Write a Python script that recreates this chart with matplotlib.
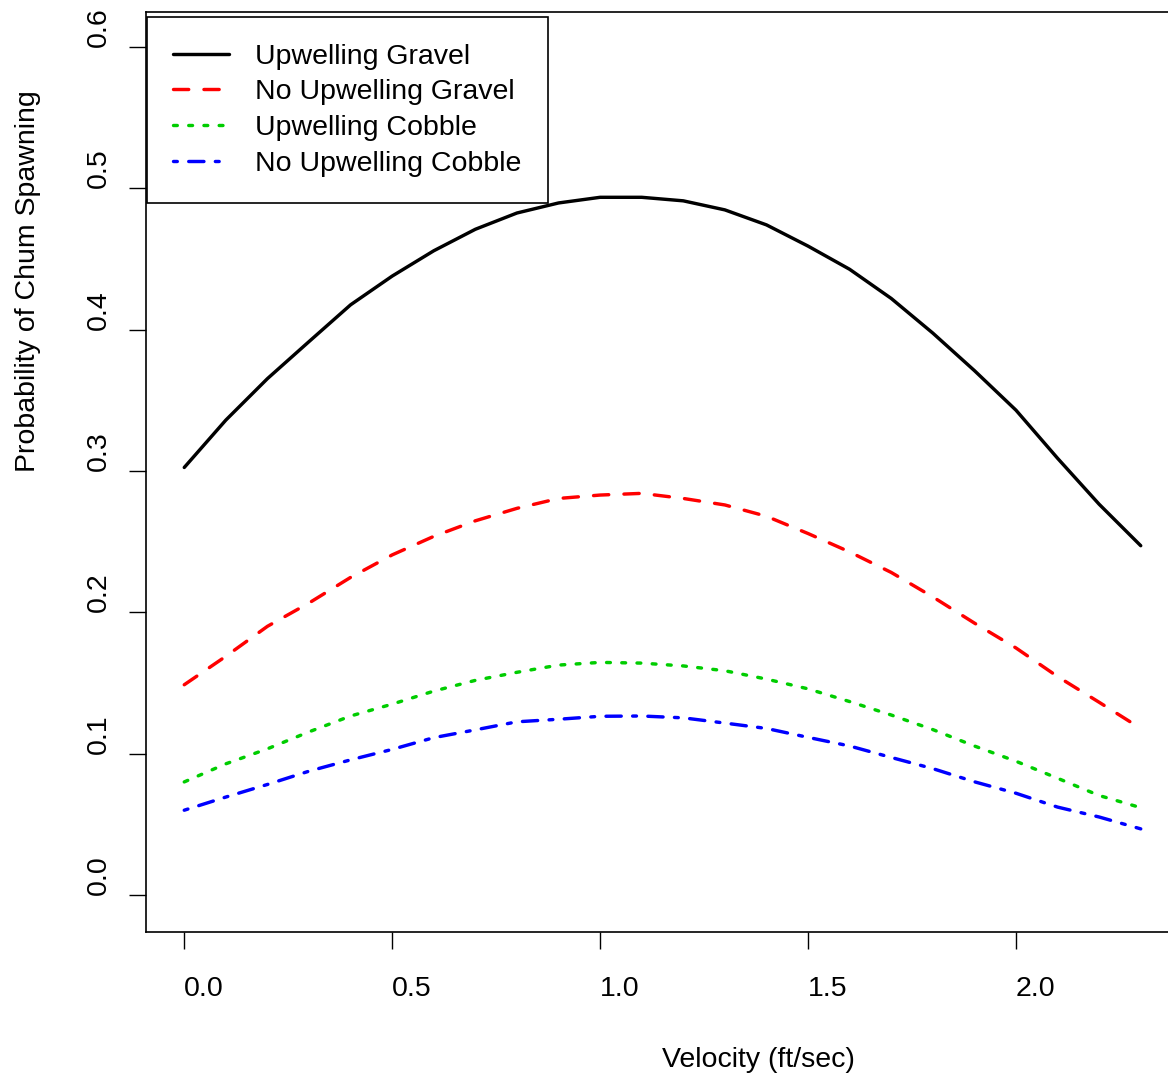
import matplotlib
matplotlib.use('Agg')
import matplotlib.pyplot as plt

# velocity grid (ft/sec) and fitted spawning probabilities per habitat type
velocity = [0.0, 0.1, 0.2, 0.3, 0.4, 0.5, 0.6, 0.7, 0.8, 0.9, 1.0, 1.1,
            1.2, 1.3, 1.4, 1.5, 1.6, 1.7, 1.8, 1.9, 2.0, 2.1, 2.2, 2.3]
upwelling_gravel = [0.3025, 0.336, 0.3653, 0.3915, 0.4175, 0.4378, 0.4557, 0.4709,
                    0.4824, 0.4895, 0.4935, 0.4935, 0.491, 0.4846, 0.474, 0.459,
                    0.4426, 0.422, 0.3975, 0.371, 0.343, 0.309, 0.2765, 0.2472]
no_upwelling_gravel = [0.1489, 0.169, 0.1902, 0.2067, 0.2248, 0.2407, 0.2538, 0.2648,
                       0.2736, 0.2806, 0.283, 0.2842, 0.2806, 0.276, 0.268, 0.2558,
                       0.2428, 0.2283, 0.211, 0.1925, 0.1749, 0.1547, 0.1365, 0.118]
upwelling_cobble = [0.0802, 0.093, 0.1036, 0.1156, 0.1268, 0.1352, 0.1444, 0.152,
                    0.1577, 0.1628, 0.1647, 0.1642, 0.1622, 0.1588, 0.1529, 0.146,
                    0.137, 0.1275, 0.1172, 0.1056, 0.0948, 0.0828, 0.0706, 0.062]
no_upwelling_cobble = [0.0602, 0.0695, 0.0784, 0.0878, 0.0958, 0.1032, 0.1115, 0.117,
                       0.1227, 0.1245, 0.1266, 0.1268, 0.1255, 0.1218, 0.118, 0.1117,
                       0.1056, 0.0975, 0.0896, 0.0803, 0.0722, 0.0624, 0.0554, 0.047]

series_names = ['Upwelling Gravel', 'No Upwelling Gravel',
                'Upwelling Cobble', 'No Upwelling Cobble']
x_ticks = [0.0, 0.5, 1.0, 1.5, 2.0]
y_ticks = [0.0, 0.1, 0.2, 0.3, 0.4, 0.5, 0.6]

plt.rcParams['font.family'] = ['Liberation Sans', 'DejaVu Sans']
plt.rcParams['lines.scale_dashes'] = False

fs = 20.5
lw = 2.45
u = 2.74  # dash unit in points

fig = plt.figure(figsize=(11.68, 10.78), dpi=100)
ax = fig.add_axes([146 / 1168, 146 / 1078, 1033 / 1168, 920 / 1078])

styles = [
    dict(color='black'),
    dict(color='red', dashes=(4 * u, 4 * u)),
    dict(color='#00CD00', dashes=(u, 3 * u)),
    dict(color='blue', dashes=(u, 3 * u, 4 * u, 3 * u)),
]
curves = [upwelling_gravel, no_upwelling_gravel, upwelling_cobble, no_upwelling_cobble]
for ys, name, st in zip(curves, series_names, styles):
    ax.plot(velocity, ys, lw=lw, label=name, solid_capstyle='round',
            dash_capstyle='round', solid_joinstyle='round',
            dash_joinstyle='round', **st)

ax.set_xlim(-0.092, 2.392)
ax.set_ylim(-0.0259, 0.6245)

for sp in ax.spines.values():
    sp.set_linewidth(1.2)

ax.set_xticks(x_ticks)
ax.set_xticklabels(['%.1f' % v for v in x_ticks])
ax.set_yticks(y_ticks)
ax.set_yticklabels(['%.1f' % v for v in y_ticks])
ax.tick_params(direction='out', length=12.2, width=1.0, labelsize=fs)
ax.tick_params(axis='x', pad=19.4)
ax.tick_params(axis='y', pad=12.6)
plt.setp(ax.get_xticklabels(), ha='left')
plt.setp(ax.get_yticklabels(), rotation=90, va='bottom')

ax.set_xlabel('Velocity (ft/sec)', fontsize=fs, ha='left')
ax.xaxis.set_label_coords(0.5, -0.1254)
ax.set_ylabel('Probability of Chum Spawning', fontsize=fs, ha='left')
ax.yaxis.set_label_coords(-0.1015, 0.5)

leg = ax.legend(loc='upper left', bbox_to_anchor=(0.001, 0.9942), borderaxespad=0,
                fontsize=fs, handlelength=1.96, handletextpad=0.91,
                labelspacing=0.34, borderpad=0.92, fancybox=False,
                edgecolor='black', framealpha=1)
leg.get_frame().set_linewidth(1.2)

fig.savefig('out.png', dpi=100)
